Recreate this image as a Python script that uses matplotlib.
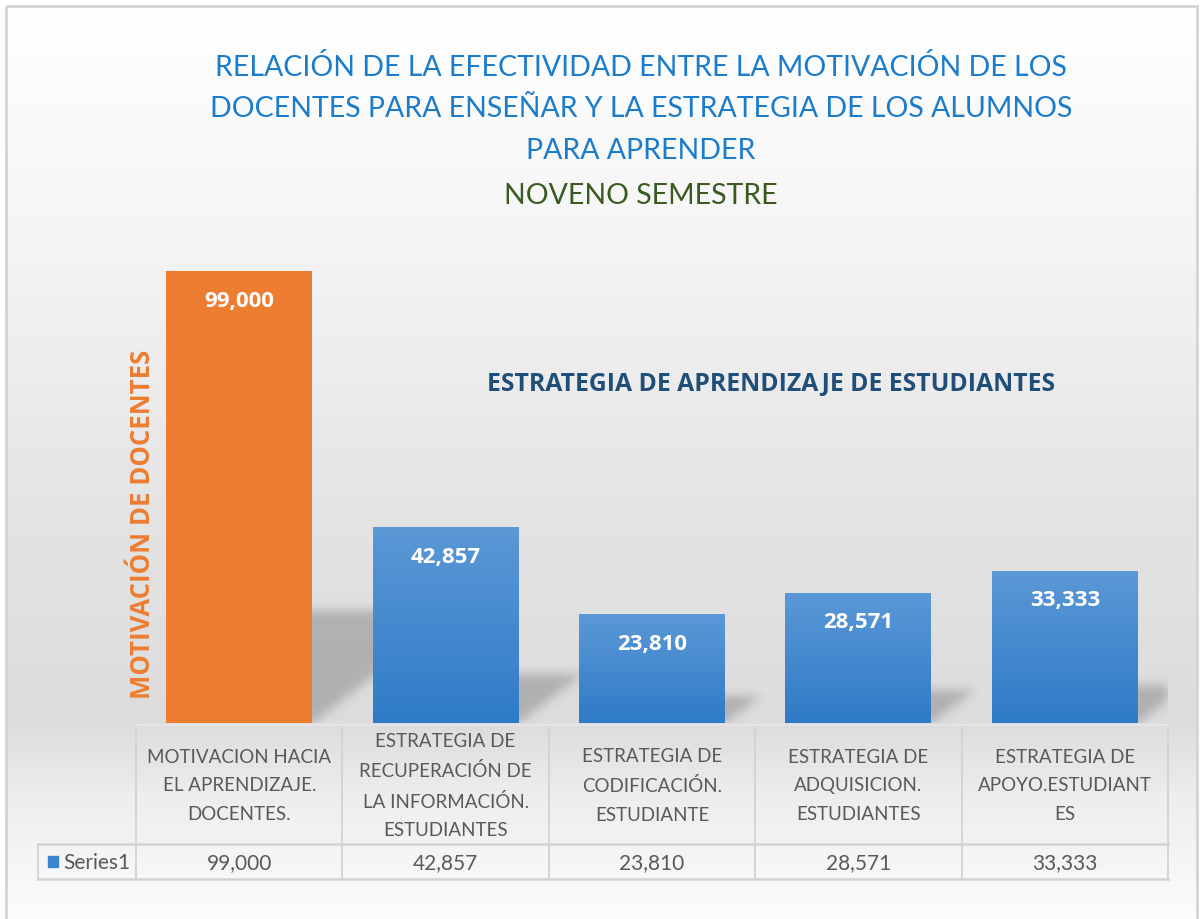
import numpy as np
import matplotlib.pyplot as plt
from matplotlib.patches import Rectangle
from matplotlib.path import Path
from matplotlib.colors import LinearSegmentedColormap
import matplotlib.transforms as mtransforms

# datos del grafico
categorias = [
    "MOTIVACION HACIA\nEL APRENDIZAJE.\nDOCENTES.",
    "ESTRATEGIA DE\nRECUPERACIÓN DE\nLA INFORMACIÓN.\nESTUDIANTES",
    "ESTRATEGIA DE\nCODIFICACIÓN.\nESTUDIANTE",
    "ESTRATEGIA DE\nADQUISICION.\nESTUDIANTES",
    "ESTRATEGIA DE\nAPOYO.ESTUDIANT\nES",
]
valores = [99.000, 42.857, 23.810, 28.571, 33.333]
serie = "Series1"
es_docente = [True, False, False, False, False]

titulo = ["RELACIÓN DE LA EFECTIVIDAD ENTRE LA MOTIVACIÓN DE LOS",
          "DOCENTES PARA ENSEÑAR Y LA ESTRATEGIA DE LOS ALUMNOS",
          "PARA APRENDER"]
subtitulo = "NOVENO SEMESTRE"
etiqueta_docentes = "MOTIVACIÓN DE DOCENTES"
etiqueta_estudiantes = "ESTRATEGIA DE APRENDIZAJE DE ESTUDIANTES"


def fmt(v):
    return f"{v:.3f}".replace(".", ",")


def suavizar(a, sigma):
    # desenfoque gaussiano separable
    r = int(3 * sigma)
    k = np.exp(-0.5 * (np.arange(-r, r + 1) / sigma) ** 2)
    k /= k.sum()
    a = np.apply_along_axis(lambda f: np.convolve(f, k, mode="same"), 0, a)
    a = np.apply_along_axis(lambda f: np.convolve(f, k, mode="same"), 1, a)
    return a


W, H = 1202, 920
fig = plt.figure(figsize=(W / 100, H / 100), dpi=100)
fig.patch.set_facecolor("white")

# capa de fondo en pixeles
bg = fig.add_axes([0, 0, 1, 1])
bg.set_xlim(0, W)
bg.set_ylim(H, 0)
bg.axis("off")

grad = LinearSegmentedColormap.from_list("fondo", [
    (0.0, "#ffffff"), (0.25, "#f5f5f5"), (0.55, "#e4e4e4"),
    (0.78, "#dcdcdc"), (0.86, "#ededed"), (1.0, "#fdfdfd")])
g = np.linspace(0, 1, 256).reshape(-1, 1)
bg.imshow(g, cmap=grad, extent=[6, 1197, 925, 7], aspect="auto", zorder=0)
bg.add_patch(Rectangle((6, 7), 1191, 930, fill=False, ec="#d4d4d4", lw=2, zorder=1))

# titulo
for i, linea in enumerate(titulo):
    bg.text(641, 67 + i * 42, linea, ha="center", va="center", color="#1b7ccc",
            fontsize=20.5, family="Lato")
bg.text(641, 196, subtitulo, ha="center", va="center", color="#3b5a22",
        fontsize=20.5, family="Lato")

# eje principal
x0, x1, ytop, ybase = 136, 1168, 250, 724
ax = fig.add_axes([x0 / W, 1 - ybase / H, (x1 - x0) / W, (ybase - ytop) / H])
ax.patch.set_alpha(0)
n = len(valores)
ax.set_xlim(-0.5, n - 0.5)
escala = (ybase - 272) / valores[0]
ymax = (ybase - ytop) / escala
ax.set_ylim(0, ymax)
ax.axis("off")

ancho = 0.707
x = np.arange(n)

# sombras en perspectiva (triangulo a la derecha de cada barra, desenfocado)
nx, ny = x1 - x0, ybase - ytop
px = -0.5 + (np.arange(nx) + 0.5) / nx * n
py = (np.arange(ny) + 0.5) / ny * ymax
gx, gy = np.meshgrid(px, py)
pts = np.column_stack([gx.ravel(), gy.ravel()])
mascara = np.zeros(gx.shape)
s = 0.33 * escala / (nx / n)
for xi, v in zip(x, valores):
    r = xi + ancho / 2
    tri = Path([(r - 0.05, 0), (r, 0), (r + s * v, 0.25 * v), (r - 0.05, 0.25 * v)])
    mascara = np.maximum(mascara, tri.contains_points(pts).reshape(gx.shape))
mascara = suavizar(mascara, 5)
sombra = np.zeros(gx.shape + (4,))
sombra[..., :3] = 0.45
sombra[..., 3] = 0.42 * mascara
ax.imshow(sombra, extent=[-0.5, n - 0.5, 0, ymax], origin="lower",
          aspect="auto", zorder=1, interpolation="bilinear")

cmap_azul = LinearSegmentedColormap.from_list("azul", ["#2f7bc7", "#5b98d6"])
for xi, v, doc in zip(x, valores, es_docente):
    if doc:
        ax.bar(xi, v, width=ancho, color="#ed7d31", zorder=2)
    else:
        b = ax.bar(xi, v, width=ancho, color="#4a8bd0", zorder=2)[0]
        im = ax.imshow(np.linspace(0, 1, 128).reshape(-1, 1), cmap=cmap_azul,
                       extent=[xi - ancho / 2, xi + ancho / 2, 0, v],
                       origin="lower", aspect="auto", zorder=3)
        im.set_clip_path(b)
    ax.annotate(fmt(v), (xi, v), xytext=(0, -21), textcoords="offset points",
                ha="center", va="center", color="white", fontsize=16,
                fontweight="bold", family="Open Sans", zorder=4)
ax.set_xlim(-0.5, n - 0.5)
ax.set_ylim(0, ymax)

# etiquetas de grupo
bg.text(143, 524, etiqueta_docentes, rotation=90, ha="center", va="center",
        color="#ed7d31", fontsize=18.5, fontweight="bold", family="Open Sans")
bg.text(771, 384, etiqueta_estudiantes, ha="center", va="center",
        color="#1f4e79", fontsize=17.8, fontweight="bold", family="Open Sans")

# tabla de datos
tr = mtransforms.blended_transform_factory(ax.transData, bg.transData)
lc = "#d2d2d2"
t_top, t_mid, t_bot = 726, 845, 880
for b in np.arange(-0.5, n, 1.0):
    bg.plot([b, b], [t_top, t_bot], color=lc, lw=1.3, transform=tr)
bg.plot([-0.5, n - 0.5], [t_top, t_top], color="#e6e6e6", lw=1.3, transform=tr)
bg.plot([38, x1], [t_mid, t_mid], color=lc, lw=1.8)
bg.plot([38, x1], [t_bot, t_bot], color=lc, lw=1.8)
bg.plot([38, 38], [t_mid, t_bot], color=lc, lw=1.3)

for xi, cat, v in zip(x, categorias, valores):
    bg.text(xi, 786, cat, transform=tr, ha="center", va="center", color="#595959",
            fontsize=13.5, family="Lato", linespacing=1.82)
    bg.text(xi, 863, fmt(v), transform=tr, ha="center", va="center", color="#595959",
            fontsize=15, family="Lato")

bg.add_patch(Rectangle((48, 857), 10, 11, color="#3a84cf"))
bg.text(63, 863, serie, ha="left", va="center", color="#595959", fontsize=15,
        family="Lato")

fig.savefig("out.png", dpi=100)
